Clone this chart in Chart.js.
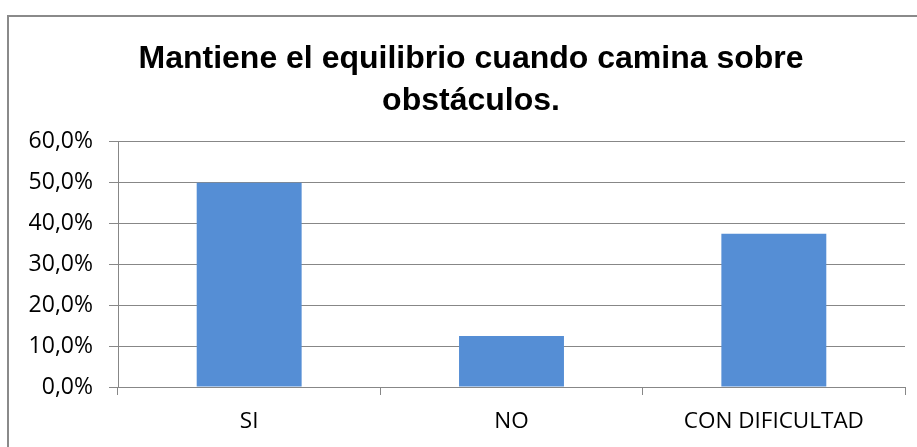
<!DOCTYPE html>
<html>
<head>
<meta charset="utf-8">
<script src="https://cdn.jsdelivr.net/npm/chart.js@4"></script>
<style>
  html, body { margin: 0; padding: 0; overflow: hidden; background: #fff; }
  #frame { position: absolute; left: 7px; top: 15px; width: 960px; height: 480px; border: 2px solid #8a8a8a; }
  #wrap { position: absolute; left: 0; top: 0; width: 942px; height: 447px; }
</style>
</head>
<body>
<div id="frame"></div>
<div id="wrap"><canvas id="chart"></canvas></div>
<script>
// categories and values
var categories = ['SI', 'NO', 'CON DIFICULTAD'];
var values = [50.0, 12.5, 37.5];
var yTicks = [0, 10, 20, 30, 40, 50, 60];

var gridColor = '#878787';

var ctx = document.getElementById('chart');

var myChart = new Chart(ctx, {
    type: 'bar',
    data: {
        labels: categories,
        datasets: [{
            data: values,
            backgroundColor: '#558ed5',
            borderWidth: 0,
            categoryPercentage: 1,
            barPercentage: 0.4
        }]
    },
    options: {
        responsive: true,
        maintainAspectRatio: false,
        animation: false,
        layout: { padding: 0 },
        plugins: {
            legend: { display: false },
            tooltip: { enabled: false },
            title: {
                display: true,
                text: ['Mantiene el equilibrio cuando camina sobre', 'obstáculos.'],
                color: '#000',
                font: { family: '"Liberation Sans", Arial, sans-serif', size: 32, weight: 'bold', lineHeight: 1.31 },
                padding: { top: 38, bottom: 20 }
            }
        },
        scales: {
            x: {
                grid: { offset: true, drawOnChartArea: false, drawTicks: true, tickLength: 8, color: gridColor },
                border: { color: gridColor },
                ticks: {
                    color: '#000',
                    padding: 13,
                    font: { family: '"Open Sans", sans-serif', size: 22.5 }
                },
                afterFit: function(s) { s.height = 60; }
            },
            y: {
                min: 0,
                max: 60,
                afterBuildTicks: function(s) {
                    s.ticks = yTicks.map(function(v) { return { value: v }; });
                },
                grid: { color: gridColor, tickLength: 9 },
                border: { color: gridColor },
                ticks: {
                    color: '#000',
                    padding: 16,
                    font: { family: '"Open Sans", sans-serif', size: 23 },
                    callback: function(v) { return v.toFixed(1).replace('.', ',') + '%'; }
                },
                afterFit: function(s) { s.width = 118; }
            },
            yRight: {
                position: 'right',
                grid: { display: false },
                border: { display: false },
                ticks: { display: false },
                afterFit: function(s) { s.width = 37; }
            }
        }
    }
});
</script>
</body>
</html>
